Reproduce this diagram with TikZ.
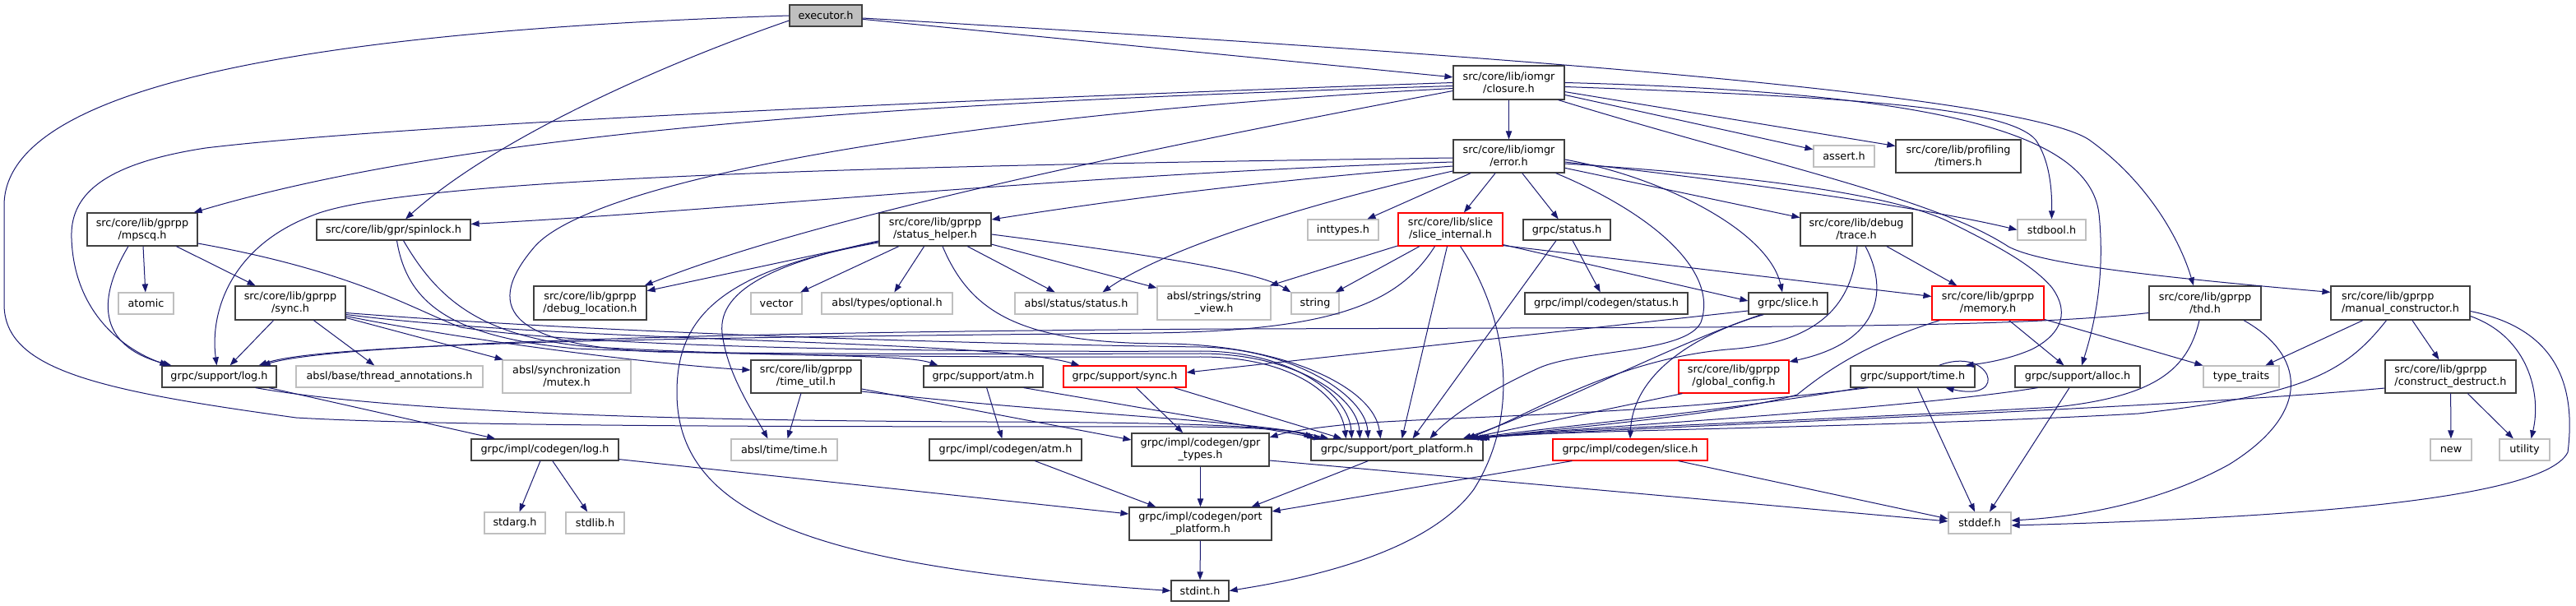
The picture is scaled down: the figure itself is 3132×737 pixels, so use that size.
\documentclass[tikz,border=0pt]{standalone}
\usepackage{fontspec}
\setmainfont{DejaVu Sans}
\usetikzlibrary{arrows.meta,calc}
\definecolor{edgec}{HTML}{191970}
\definecolor{darkb}{HTML}{404040}
\definecolor{grayb}{HTML}{BFBFBF}
\definecolor{redb}{HTML}{FF0000}
\definecolor{exfill}{HTML}{BFBFBF}
\newcommand\bx[7]{\node[#6, minimum width={(#4-#2)*0.75pt}, minimum height={(#5-#3)*0.75pt}] (#1) at ({(#2+#4)/2},{(#3+#5)/2}) {#7};}
\begin{document}
\begin{tikzpicture}[x=0.75pt,y=-0.75pt,
  base/.style={rectangle, inner sep=1pt, fill=white, font=\fontsize{9.6}{11.25}\selectfont, text=black, align=center, line width=0.9pt},
  nb/.style={base, draw=darkb},
  gb/.style={base, draw=grayb},
  rb/.style={base, draw=redb},
  xb/.style={base, draw=darkb, fill=exfill},
  e/.style={draw=edgec, line width=0.75pt, -{Triangle[length=7.5pt,width=5.5pt]}}]
\useasboundingbox (0,0) rectangle (3132,737);
\fill[white] (0,0) rectangle (3132,737);
% nodes
\bx{exe}{960}{6}{1048}{32}{xb}{executor.h}
\bx{clo}{1767}{80}{1902}{121}{nb}{src/core/lib/iomgr\\/closure.h}
\bx{err}{1767}{170}{1902}{210}{nb}{src/core/lib/iomgr\\/error.h}
\bx{asrt}{2205}{177}{2279}{203}{gb}{assert.h}
\bx{tmr}{2305}{170}{2457}{210}{nb}{src/core/lib/profiling\\/timers.h}
\bx{sbool}{2453}{267}{2536}{292}{gb}{stdbool.h}
\bx{mpsc}{106}{259}{240}{299}{nb}{src/core/lib/gprpp\\/mpscq.h}
\bx{spin}{385}{267}{572}{292}{nb}{src/core/lib/gpr/spinlock.h}
\bx{sthelp}{1069}{259}{1205}{299}{nb}{src/core/lib/gprpp\\/status\_helper.h}
\bx{intt}{1590}{267}{1676}{292}{gb}{inttypes.h}
\bx{slint}{1700}{259}{1827}{299}{rb}{src/core/lib/slice\\/slice\_internal.h}
\bx{gstat}{1852}{267}{1958}{292}{nb}{grpc/status.h}
\bx{trace}{2189}{259}{2325}{299}{nb}{src/core/lib/debug\\/trace.h}
\bx{atom}{144}{356}{211}{382}{gb}{atomic}
\bx{gsync}{286}{348}{420}{389}{nb}{src/core/lib/gprpp\\/sync.h}
\bx{dbg}{649}{348}{786}{389}{nb}{src/core/lib/gprpp\\/debug\_location.h}
\bx{vec}{913}{356}{975}{382}{gb}{vector}
\bx{opt}{999}{356}{1158}{382}{gb}{absl/types/optional.h}
\bx{astat}{1234}{356}{1383}{382}{gb}{absl/status/status.h}
\bx{sview}{1407}{348}{1545}{389}{gb}{absl/strings/string\\\_view.h}
\bx{strg}{1570}{356}{1628}{382}{gb}{string}
\bx{cgstat}{1854}{356}{2052}{382}{nb}{grpc/impl/codegen/status.h}
\bx{gslice}{2126}{356}{2222}{382}{nb}{grpc/slice.h}
\bx{memo}{2349}{348}{2485}{389}{rb}{src/core/lib/gprpp\\/memory.h}
\bx{thd}{2613}{348}{2749}{389}{nb}{src/core/lib/gprpp\\/thd.h}
\bx{mctor}{2834}{348}{3003}{389}{nb,align=left}{src/core/lib/gprpp\\/manual\_constructor.h}
\bx{log}{197}{445}{336}{471}{nb}{grpc/support/log.h}
\bx{tann}{360}{445}{587}{471}{gb}{absl/base/thread\_annotations.h}
\bx{mutex}{611}{438}{767}{478}{gb}{absl/synchronization\\/mutex.h}
\bx{tutil}{913}{438}{1047}{478}{nb}{src/core/lib/gprpp\\/time\_util.h}
\bx{atm}{1123}{445}{1268}{471}{nb}{grpc/support/atm.h}
\bx{ssync}{1293}{445}{1442}{471}{rb}{grpc/support/sync.h}
\bx{gconf}{2041}{438}{2175}{478}{rb}{src/core/lib/gprpp\\/global\_config.h}
\bx{gtime}{2250}{445}{2401}{471}{nb}{grpc/support/time.h}
\bx{alloc}{2450}{445}{2602}{471}{nb}{grpc/support/alloc.h}
\bx{ttraits}{2679}{445}{2771}{471}{gb}{type\_traits}
\bx{cdes}{2900}{438}{3059}{478}{nb,align=left}{src/core/lib/gprpp\\/construct\_destruct.h}
\bx{cglog}{573}{534}{752}{560}{nb}{grpc/impl/codegen/log.h}
\bx{atime}{889}{534}{1018}{560}{gb}{absl/time/time.h}
\bx{cgatm}{1130}{534}{1315}{560}{nb}{grpc/impl/codegen/atm.h}
\bx{gprt}{1376}{527}{1543}{567}{nb}{grpc/impl/codegen/gpr\\\_types.h}
\bx{pport}{1594}{534}{1803}{560}{nb}{grpc/support/port\_platform.h}
\bx{cgslice}{1888}{534}{2076}{560}{rb}{grpc/impl/codegen/slice.h}
\bx{newh}{2955}{534}{3005}{560}{gb}{new}
\bx{util}{3039}{534}{3100}{560}{gb}{utility}
\bx{starg}{589}{623}{663}{649}{gb}{stdarg.h}
\bx{stlib}{688}{623}{759}{649}{gb}{stdlib.h}
\bx{cgport}{1373}{617}{1546}{657}{nb}{grpc/impl/codegen/port\\\_platform.h}
\bx{stddef}{2369}{623}{2445}{649}{gb}{stddef.h}
\bx{stint}{1424}{706}{1494}{731}{nb}{stdint.h}
% executor
\draw[e] (exe) -- (clo);
\draw[e] ($(exe.west)+(0,6)$) .. controls (800,80) and (600,170) .. (spin);
\draw[e] ($(exe.east)+(0,3)$) .. controls (1700,60) and (2450,110) .. (2540,170) .. controls (2610,220) and (2650,290) .. ($(thd.north)+(-14,0)$);
\draw[e] (exe.west) .. controls (300,40) and (5,120) .. (5,250) -- (5,370) .. controls (5,450) and (120,475) .. (360,508) .. controls (600,522) and (1300,518) .. (1450,519) .. controls (1540,520) and (1580,524) .. ($(pport.north west)+(2,0)$);
% closure
\draw[e] (clo) -- (err);
\draw[e] (clo) -- (asrt);
\draw[e] (clo) -- (tmr);
\draw[e] ($(clo.east)+(0,5)$) .. controls (2250,118) and (2440,130) .. (2475,170) .. controls (2492,195) and (2495,230) .. (sbool.north);
\draw[e] (clo.east) .. controls (2350,112) and (2540,160) .. (2552,260) .. controls (2560,340) and (2545,400) .. ($(alloc.north)+(5,0)$);
\draw[e] (clo.west) .. controls (1200,120) and (500,150) .. (250,180) .. controls (120,200) and (85,240) .. (87,290) .. controls (90,380) and (150,425) .. ($(log.north west)+(8,0)$);
\draw[e] ($(clo.west)+(0,4)$) .. controls (1200,122) and (600,150) .. ($(mpsc.north east)+(-5,0)$);
\draw[e] ($(clo.west)+(0,10)$) .. controls (1450,170) and (1000,260) .. ($(dbg.north east)+(-3,0)$);
\draw[e] ($(clo.west)+(0,7)$) .. controls (1150,140) and (720,220) .. (650,300) .. controls (590,370) and (610,420) .. (800,428) .. controls (1100,432) and (1350,430) .. (1460,430) .. controls (1570,430) and (1650,480) .. ($(pport.north)+(-45,0)$);
\draw[e] ($(clo.south east)+(-8,0)$) .. controls (2150,200) and (2350,240) .. (2442,300) .. controls (2480,320) and (2600,335) .. ($(mctor.north west)+(0,8)$);
% error
\draw[e] (err) -- (intt);
\draw[e] (err) -- (slint);
\draw[e] (err) -- (gstat);
\draw[e] (err) -- (trace);
\draw[e] ($(err.east)+(0,7)$) .. controls (2150,225) and (2350,255) .. (sbool.west);
\draw[e] ($(err.east)+(0,9)$) .. controls (2150,215) and (2300,238) .. (2366,268) .. controls (2420,295) and (2470,320) .. (2495,350) .. controls (2520,385) and (2500,410) .. (2470,425) .. controls (2440,438) and (2410,442) .. ($(gtime.north east)+(-12,0)$);
\draw[e] ($(err.east)+(0,4)$) .. controls (2020,215) and (2150,280) .. ($(gslice.north)+(-7,0)$);
\draw[e] ($(err.south east)+(-11,0)$) .. controls (2010,260) and (2090,330) .. (2068,392) .. controls (2050,430) and (1920,425) .. (1870,448) .. controls (1800,480) and (1760,510) .. ($(pport.north)+(40,0)$);
\draw[e] ($(err.west)+(0,2)$) .. controls (1200,200) and (500,212) .. (380,262) .. controls (280,300) and (255,380) .. ($(log.north)+(-3,0)$);
\draw[e] ($(err.west)+(0,7)$) .. controls (1300,212) and (900,255) .. ($(spin.east)+(0,-7)$);
\draw[e] ($(err.west)+(0,12)$) .. controls (1500,222) and (1300,252) .. ($(sthelp.east)+(0,-12)$);
\draw[e] ($(err.west)+(0,18)$) .. controls (1600,245) and (1420,300) .. ($(astat.north)+(32,0)$);
% mpscq
\draw[e] (mpsc) -- (atom);
\draw[e] (mpsc) -- (gsync);
\draw[e] ($(mpsc.south)+(-17,0)$) .. controls (120,360) and (115,420) .. ($(log.north west)+(12,0)$);
\draw[e] ($(mpsc.east)+(0,17)$) .. controls (430,330) and (500,375) .. (560,398) .. controls (750,428) and (1300,428) .. (1460,427) .. controls (1570,427) and (1640,480) .. ($(pport.north)+(-55,0)$);
% spinlock
\draw[e] ($(spin.south)+(12,0)$) .. controls (530,360) and (580,410) .. (720,422) .. controls (950,435) and (1100,430) .. ($(atm.north)+(-55,0)$);
\draw[e] ($(spin.south)+(4,0)$) .. controls (495,370) and (550,410) .. (700,424) .. controls (1000,436) and (1350,434) .. (1460,434) .. controls (1570,434) and (1630,480) .. ($(pport.north)+(-62,0)$);
% status_helper
\draw[e] (sthelp) -- (dbg);
\draw[e] (sthelp) -- (vec);
\draw[e] (sthelp) -- (opt);
\draw[e] (sthelp) -- (astat);
\draw[e] (sthelp) -- (sview);
\draw[e] ($(sthelp.east)+(0,6)$) .. controls (1400,310) and (1530,330) .. (strg.north west);
\draw[e] ($(sthelp.west)+(0,14)$) .. controls (950,318) and (872,350) .. (878,405) .. controls (884,455) and (915,500) .. ($(atime.north)+(-20,0)$);
\draw[e] ($(sthelp.west)+(0,16)$) .. controls (870,330) and (822,390) .. (823,480) .. controls (825,630) and (1000,690) .. (stint.west);
\draw[e] ($(sthelp.south)+(9,0)$) .. controls (1180,380) and (1240,418) .. (1420,418) .. controls (1560,420) and (1670,470) .. ($(pport.north)+(-20,0)$);
% slice_internal
\draw[e] (slint) -- (sview);
\draw[e] (slint) -- (strg);
\draw[e] ($(slint.south)+(-19,0)$) .. controls (1700,370) and (1620,402) .. (1400,405) .. controls (900,410) and (400,415) .. ($(log.north east)+(-22,0)$);
\draw[e] ($(slint.south)+(-4,0)$) -- ($(pport.north)+(6,0)$);
\draw[e] ($(slint.south)+(12,0)$) .. controls (1830,380) and (1852,500) .. (1792,595) .. controls (1730,680) and (1560,708) .. (stint.east);
\draw[e] ($(slint.south east)+(0,-2)$) -- ($(gslice.west)+(0,-3)$);
\draw[e] ($(slint.south east)+(0,-1)$) -- ($(memo.west)+(0,-8)$);
% grpc/status
\draw[e] (gstat) -- (cgstat);
\draw[e] ($(gstat.south)+(-13,0)$) -- ($(pport.north)+(19,0)$);
% trace
\draw[e] ($(trace.south)+(1,0)$) .. controls (2252,380) and (2200,418) .. (2100,425) .. controls (1960,438) and (1860,505) .. ($(pport.north)+(85,0)$);
\draw[e] ($(trace.south)+(11,0)$) .. controls (2295,350) and (2290,415) .. ($(gconf.east)+(0,-18)$);
\draw[e] (trace) -- (memo);
% gprpp sync
\draw[e] (gsync) -- (log);
\draw[e] (gsync) -- (tann);
\draw[e] (gsync) -- (mutex);
\draw[e] ($(gsync.east)+(0,16)$) .. controls (600,420) and (820,445) .. ($(tutil.west)+(0,-8)$);
\draw[e] ($(gsync.east)+(0,14)$) .. controls (700,418) and (1200,412) .. ($(ssync.north)+(-55,0)$);
\draw[e] ($(gsync.east)+(0,12)$) .. controls (800,410) and (1300,420) .. (1460,422) .. controls (1570,424) and (1660,480) .. ($(pport.north)+(-35,0)$);
% memory
\draw[e] (memo) -- (alloc);
\draw[e] (memo) -- (ttraits);
\draw[e] ($(memo.south west)+(10,0)$) .. controls (2260,420) and (2210,460) .. (2185,480) .. controls (2100,505) and (1880,522) .. ($(pport.north east)+(-3,0)$);
% thd
\draw[e] ($(thd.west)+(0,12)$) .. controls (2450,398) and (2200,398) .. (1500,400) .. controls (800,404) and (400,420) .. ($(log.north east)+(-18,0)$);
\draw[e] ($(thd.south)+(-7,0)$) .. controls (2660,450) and (2620,482) .. (2500,495) .. controls (2200,512) and (1880,522) .. ($(pport.north east)+(-8,0)$);
\draw[e] ($(thd.south)+(47,0)$) .. controls (2800,430) and (2815,500) .. (2710,565) .. controls (2610,620) and (2500,630) .. ($(stddef.east)+(0,-3)$);
% manual_constructor
\draw[e] (mctor) -- (ttraits);
\draw[e] (mctor) -- (cdes);
\draw[e] ($(mctor.east)+(0,16)$) .. controls (3075,410) and (3090,480) .. ($(util.north)+(8,0)$);
\draw[e] ($(mctor.east)+(0,10)$) .. controls (3110,400) and (3132,470) .. (3122,550) .. controls (3090,615) and (2700,632) .. ($(stddef.east)+(0,3)$);
\draw[e] ($(mctor.south)+(-17,0)$) .. controls (2850,455) and (2800,480) .. (2600,503) .. controls (2300,520) and (1880,523) .. ($(pport.north east)+(-12,0)$);
% construct_destruct
\draw[e] ($(cdes.west)+(0,14)$) .. controls (2600,500) and (1900,522) .. ($(pport.north east)+(-6,0)$);
\draw[e] (cdes) -- (newh);
\draw[e] (cdes) -- (util);
% grpc/support/time
\draw[e] ($(gtime.north)+(32,0)$) .. controls (2420,420) and (2445,490) .. ($(gtime.south)+(40,0)$);
\draw[e] ($(gtime.south west)+(12,0)$) .. controls (2100,500) and (1880,520) .. ($(pport.north east)+(-16,0)$);
\draw[e] ($(gtime.south west)+(22,0)$) .. controls (2000,505) and (1800,505) .. (1650,515) .. controls (1600,520) and (1570,524) .. ($(gprt.east)+(0,-15)$);
\draw[e] ($(gtime.south)+(6,0)$) -- ($(stddef.north)+(-6,0)$);
% alloc
\draw[e] ($(alloc.south west)+(28,0)$) .. controls (2300,500) and (1880,522) .. ($(pport.north east)+(-10,0)$);
\draw[e] ($(alloc.south)+(-10,0)$) -- ($(stddef.north)+(12,0)$);
% global_config
\draw[e] ($(gconf.south west)+(5,0)$) -- ($(pport.north east)+(-20,0)$);
% grpc/slice
\draw[e] ($(gslice.west)+(0,9)$) -- ($(ssync.east)+(0,-5)$);
\draw[e] ($(gslice.south west)+(16,0)$) .. controls (2030,420) and (1880,500) .. ($(pport.north east)+(-25,0)$);
\draw[e] ($(gslice.south west)+(19,0)$) .. controls (2050,410) and (1985,460) .. (cgslice.north);
% codegen/slice
\draw[e] ($(cgslice.south west)+(24,0)$) -- ($(cgport.east)+(0,-15)$);
\draw[e] ($(cgslice.south east)+(-36,0)$) -- ($(stddef.west)+(0,-5)$);
% log
\draw[e] (log) -- (cglog);
\draw[e] ($(log.south east)+(-26,0)$) .. controls (500,505) and (900,512) .. (1200,513) .. controls (1450,514) and (1560,518) .. ($(pport.north west)+(6,0)$);
\draw[e] (cglog) -- (starg);
\draw[e] (cglog) -- (stlib);
\draw[e] ($(cglog.south east)+(0,-2)$) -- ($(cgport.west)+(0,-12)$);
% atm, sync, time_util
\draw[e] (atm) -- (cgatm);
\draw[e] ($(atm.south east)+(-24,0)$) -- ($(pport.north west)+(14,0)$);
\draw[e] (ssync) -- (gprt);
\draw[e] ($(ssync.south east)+(-15,0)$) -- ($(pport.north west)+(38,0)$);
\draw[e] (tutil) -- (atime);
\draw[e] ($(tutil.east)+(0,15)$) -- ($(gprt.west)+(0,-12)$);
\draw[e] ($(tutil.east)+(0,18)$) .. controls (1300,505) and (1520,510) .. ($(pport.north west)+(22,0)$);
% codegen
\draw[e] (cgatm) -- (cgport);
\draw[e] (gprt) -- (cgport);
\draw[e] ($(gprt.east)+(0,13)$) -- ($(stddef.west)+(0,-2)$);
\draw[e] (cgport) -- (stint);
\draw[e] ($(pport.south west)+(70,0)$) -- ($(cgport.north east)+(-25,0)$);
\end{tikzpicture}
\end{document}
